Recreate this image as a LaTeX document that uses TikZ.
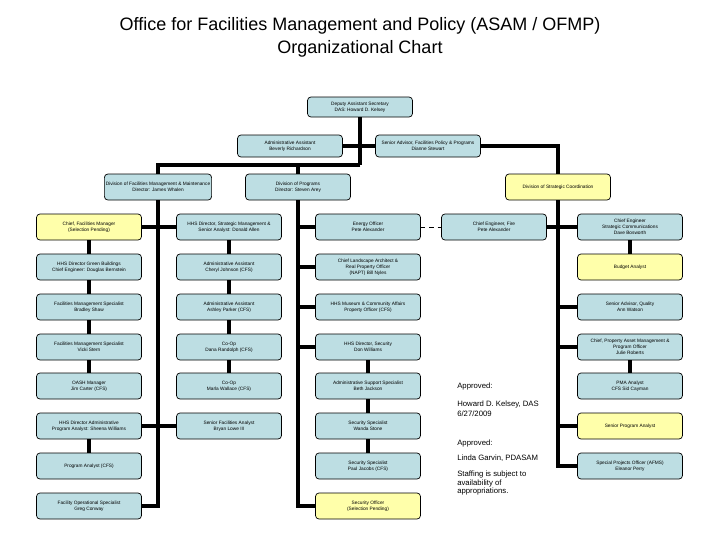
\documentclass[tikz,border=0pt]{standalone}
\usepackage{fontspec}
\setmainfont{Liberation Sans}
\usepackage{xcolor}
\definecolor{boxblue}{RGB}{189,222,227}
\definecolor{boxyellow}{RGB}{255,255,170}

\begin{document}
\begin{tikzpicture}[
      x=0.025cm,y=-0.025cm,
      box/.style={draw=black,line width=0.5pt,rounded corners=2.5pt,align=center,
                  inner sep=1pt,font=\fontsize{3.4}{4.2}\selectfont,fill=boxblue,
                  minimum width=2.625cm,minimum height=0.65cm},
      vacant/.style={box,fill=boxyellow},
      head/.style={box,minimum height=0.5cm},
      wire/.style={draw,line width=2.2pt},
      note/.style={anchor=west,inner sep=0pt,align=left,
                   font=\fontsize{5.5}{5.7}\selectfont}]

    \useasboundingbox (0,0) rectangle (720,540);

    % title
    \node[font=\fontsize{12.8}{15}\selectfont] (t1) at (360,26)
      {Office for Facilities Management and Policy (ASAM / OFMP)};
    \node[font=\fontsize{12.8}{15}\selectfont] (t2) at (360,49) {Organizational Chart};

    % front office
    \node[head] (das) at (360,107)
      {Deputy Assistant Secretary\\DAS: Howard D. Kelsey};
    \node[head,minimum height=0.55cm] (aa) at (290,146)
      {Administrative Assistant\\Beverly Richardson};
    \node[head,minimum height=0.55cm] (adv) at (428,146)
      {Senior Advisor, Facilities Policy \& Programs\\Dianne Stewart};

    % divisions
    \node[box] (divF) at (158,187)
      {Division of Facilities Management \& Maintenance\\Director: James Whalen};
    \node[box] (divP) at (298,187)
      {Division of Programs\\Director: Steven Arey};
    \node[vacant] (divS) at (558,187)
      {Division of Strategic Coordination};

    % facilities management column
    \node[vacant] (f1) at (89,227) {Chief, Facilities Manager\\(Selection Pending)};
    \node[box] (f2) at (89,267) {HHS Director Green Buildings\\Chief Engineer: Douglas Bernstein};
    \node[box] (f3) at (89,307) {Facilities Management Specialist\\Bradley Shaw};
    \node[box] (f4) at (89,347) {Facilities Management Specialist\\Vicki Stern};
    \node[box] (f5) at (89,386) {OASH Manager\\Jim Carter (CFS)};
    \node[box] (f6) at (89,426) {HHS Director Administrative\\Program Analyst: Sheena Williams};
    \node[box] (f7) at (89,466) {Program Analyst (CFS)};
    \node[box] (f8) at (89,506) {Facility Operational Specialist\\Greg Conway};

    \node[box] (g1) at (229,227)
      {HHS Director, Strategic Management \&\\Senior Analyst: Donald Allen};
    \node[box] (g2) at (229,267) {Administrative Assistant\\Cheryl Johnson (CFS)};
    \node[box] (g3) at (229,307) {Administrative Assistant\\Ashley Parker (CFS)};
    \node[box] (g4) at (229,347) {Co-Op\\Dana Randolph (CFS)};
    \node[box] (g5) at (229,386) {Co-Op\\Marla Wallace (CFS)};
    \node[box] (g6) at (229,426) {Senior Facilities Analyst\\Bryan Lowe III};

    % programs column
    \node[box] (s1) at (368,227) {Energy Officer\\Pete Alexander};
    \node[box] (s2) at (368,267)
      {Chief Landscape Architect \&\\Real Property Officer\\(NAPT) Bill Nyles};
    \node[box] (s3) at (368,307) {HHS Museum \& Community Affairs\\Property Officer (CFS)};
    \node[box] (s4) at (368,347) {HHS Director, Security\\Don Williams};
    \node[box] (s5) at (368,386) {Administrative Support Specialist\\Beth Jackson};
    \node[box] (s6) at (368,426) {Security Specialist\\Wanda Stone};
    \node[box] (s7) at (368,466) {Security Specialist\\Paul Jacobs (CFS)};
    \node[vacant] (s8) at (368,506) {Security Officer\\(Selection Pending)};

    \node[box] (e4) at (494,227) {Chief Engineer, Fire\\Pete Alexander};

    % strategic column
    \node[box] (p1) at (630,227)
      {Chief Engineer\\Strategic Communications\\Dave Bosworth};
    \node[vacant] (p2) at (630,267) {Budget Analyst};
    \node[box] (p3) at (630,307) {Senior Advisor, Quality\\Ann Watson};
    \node[box] (p4) at (630,347)
      {Chief, Property Asset Management \&\\Program Officer\\Julie Roberts};
    \node[box] (p5) at (630,386) {PMA Analyst\\CFS Sid Cayman};
    \node[vacant] (p6) at (630,426) {Senior Program Analyst};
    \node[box] (p7) at (630,466) {Special Projects Officer (AFMS)\\Eleanor Perry};

    % approvals
    \node[note] (ok1) at (457,386) {Approved:};
    \node[note] (sig1) at (457,404) {Howard D. Kelsey, DAS};
    \node[note] (date1) at (457,414) {6/27/2009};
    \node[note] (ok2) at (457,443) {Approved:};
    \node[note] (sig2) at (457,458) {Linda Garvin, PDASAM};
    \node[note] (staff) at (457,483)
      {Staffing is subject to\\availability of\\appropriations.};

    % connectors
    \coordinate (split) at (360,165);
    \draw[wire] (das.south) -- (split);
    \draw[wire] (aa.east) -- (adv.west);
    \draw[wire] (adv.east) -| (divS.north);
    \draw[wire] (split) -| (divF.north);
    \draw[wire] (split) -| (divP.north);

    \draw[wire] (divF.south) |- (f8.east);
    \draw[wire] (f1.east) -- (g1.west);
    \draw[wire] (f6.east) -- (g6.west);
    \draw[wire] (f1) -- (f2) (f2) -- (f3) (f3) -- (f4) (f4) -- (f5) (f6) -- (f7);
    \draw[wire] (g1) -- (g2) (g2) -- (g3) (g3) -- (g4) (g4) -- (g5);

    \draw[wire] (divP.south) |- (s8.west);
    \draw[wire] (divP.south) |- (s1.west);
    \draw[wire] (divP.south) |- (s2.west);
    \draw[wire] (divP.south) |- (s3.west);
    \draw[wire] (divP.south) |- (s4.west);
    \draw[wire] (s4) -- (s5) (s5) -- (s6) (s6) -- (s7);
    \draw[dashed,line width=0.5pt] (s1.east) -- (e4.west);
    \draw[wire] (e4.east) -- (p1.west);

    \draw[wire] (divS.south) |- (p7.west);
    \draw[wire] (divS.south) |- (p3.west);
    \draw[wire] (divS.south) |- (p4.west);
    \draw[wire] (divS.south) |- (p6.west);
    \draw[wire] (p1) -- (p2) (p4) -- (p5);
  \end{tikzpicture}
\end{document}
